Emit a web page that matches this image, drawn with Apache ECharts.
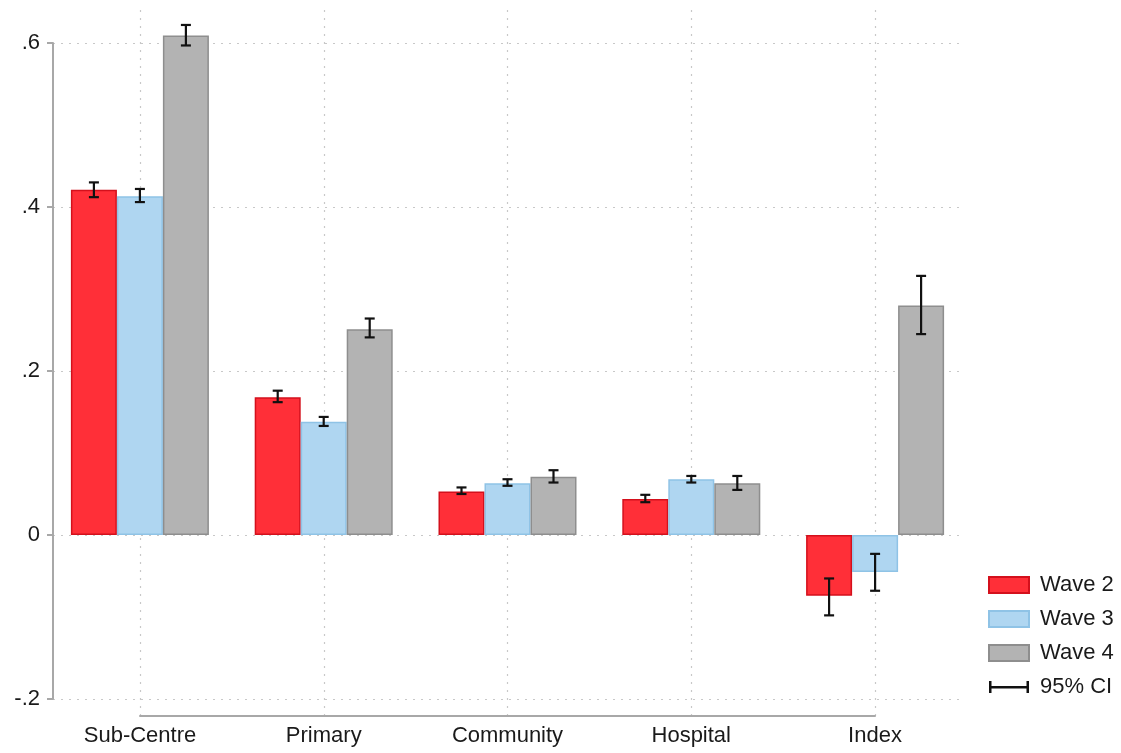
<!DOCTYPE html>
<html>
<head>
<meta charset="utf-8">
<script src="https://cdn.jsdelivr.net/npm/echarts@6/dist/echarts.min.js"></script>
<style>
  html, body { margin: 0; padding: 0; background: #fff; }
  #chart { width: 1121px; height: 753px; }
</style>
</head>
<body>
<div id="chart"></div>
<script>
// Facility-level estimates by survey wave, with 95% confidence intervals
const categories = ['Sub-Centre', 'Primary', 'Community', 'Hospital', 'Index'];
const seriesNames = ['Wave 2', 'Wave 3', 'Wave 4'];

const wave2 = [0.421, 0.168, 0.053, 0.044, -0.074];
const wave3 = [0.413, 0.138, 0.063, 0.068, -0.045];
const wave4 = [0.609, 0.251, 0.071, 0.063, 0.280];

const wave2Low  = [0.412, 0.162, 0.050, 0.040, -0.098];
const wave2High = [0.430, 0.176, 0.058, 0.049, -0.053];
const wave3Low  = [0.406, 0.133, 0.060, 0.064, -0.068];
const wave3High = [0.422, 0.144, 0.068, 0.072, -0.023];
const wave4Low  = [0.597, 0.241, 0.064, 0.055, 0.245];
const wave4High = [0.622, 0.264, 0.079, 0.072, 0.316];

const FONT = "'Liberation Sans', Arial, sans-serif";
const BAR_W = 46;

const colors = [
  { fill: '#ff2f38', border: '#d4101c' },
  { fill: '#afd6f1', border: '#8fc3e6' },
  { fill: '#b3b3b3', border: '#8e8e8e' }
];

const values = [wave2, wave3, wave4];
const lows = [wave2Low, wave3Low, wave4Low];
const highs = [wave2High, wave3High, wave4High];

// error-bar records: [categoryIndex, waveIndex, low, high]
const ciData = [];
categories.forEach((c, i) => {
  for (let s = 0; s < 3; s++) ciData.push([i, s, lows[s][i], highs[s][i]]);
});

const barSeries = seriesNames.map((name, s) => ({
  name: name,
  type: 'bar',
  xAxisIndex: 0,
  yAxisIndex: 0,
  barWidth: BAR_W,
  barGap: '0%',
  clip: false,
  data: values[s],
  itemStyle: { color: colors[s].fill, borderColor: colors[s].border, borderWidth: 1.5 },
  emphasis: { disabled: true },
  z: 3
}));

const ciSeries = {
  name: '95% CI',
  type: 'custom',
  xAxisIndex: 0,
  yAxisIndex: 0,
  clip: false,
  data: ciData,
  encode: { x: 0, y: [2, 3] },
  z: 5,
  itemStyle: { color: '#111' },
  renderItem: function (params, api) {
    const cat = api.value(0);
    const s = api.value(1);
    const pLow = api.coord([cat, api.value(2)]);
    const pHigh = api.coord([cat, api.value(3)]);
    const x = pLow[0] + (s - 1) * BAR_W;
    const cap = 5;
    const style = { stroke: '#111', lineWidth: 2.2, fill: 'none' };
    return {
      type: 'group',
      children: [
        { type: 'line', shape: { x1: x, y1: pLow[1], x2: x, y2: pHigh[1] }, style: style },
        { type: 'line', shape: { x1: x - cap, y1: pLow[1], x2: x + cap, y2: pLow[1] }, style: style },
        { type: 'line', shape: { x1: x - cap, y1: pHigh[1], x2: x + cap, y2: pHigh[1] }, style: style }
      ]
    };
  }
};

const chart = echarts.init(document.getElementById('chart'), null, { renderer: 'canvas' });

chart.setOption({
  animation: false,
  backgroundColor: '#ffffff',
  textStyle: { fontFamily: FONT },
  grid: [
    // bars
    { left: 48, width: 919, top: 43, height: 656 },
    // y axis with horizontal gridlines
    { left: 53, width: 907, top: 43, height: 656 },
    // x axis with vertical gridlines
    { left: 140, width: 735, top: 10, height: 706 }
  ],
  xAxis: [
    { gridIndex: 0, type: 'category', data: categories, show: false },
    { gridIndex: 1, type: 'value', show: false, min: 0, max: 1 },
    {
      gridIndex: 2, type: 'category', data: categories, boundaryGap: false,
      axisLine: { show: true, lineStyle: { color: '#a8a8a8', width: 2 } },
      axisTick: { show: false },
      axisLabel: { color: '#1a1a1a', fontSize: 22, fontFamily: FONT, margin: 9 },
      splitLine: { show: true, lineStyle: { color: '#c8c8c8', type: [2, 6], width: 1.2 } }
    }
  ],
  yAxis: [
    { gridIndex: 0, type: 'value', min: -0.2, max: 0.6, show: false },
    {
      gridIndex: 1, type: 'value', min: -0.2, max: 0.6, interval: 0.2,
      axisLine: { show: true, lineStyle: { color: '#a8a8a8', width: 2 } },
      axisTick: { show: true, length: 6, lineStyle: { color: '#a8a8a8', width: 2 } },
      axisLabel: {
        color: '#1a1a1a', fontSize: 22, fontFamily: FONT, margin: 13,
        formatter: function (v) {
          const r = Math.round(v * 10) / 10;
          if (r === 0) return '0';
          return String(r).replace('0.', '.');
        }
      },
      splitLine: { show: true, lineStyle: { color: '#c8c8c8', type: [2, 6], width: 1.2 } }
    },
    { gridIndex: 2, type: 'value', show: false, min: 0, max: 1 }
  ],
  legend: {
    orient: 'vertical',
    left: 983,
    top: 569,
    itemWidth: 40,
    itemHeight: 16,
    itemGap: 12,
    textStyle: { color: '#1a1a1a', fontSize: 22, fontFamily: FONT, padding: [0, 0, 0, 6] },
    data: [
      { name: 'Wave 2', icon: 'rect' },
      { name: 'Wave 3', icon: 'rect' },
      { name: 'Wave 4', icon: 'rect' },
      {
        name: '95% CI',
        icon: 'path://M0,7 L40,7 L40,9.5 L0,9.5 Z M0,2 L2.5,2 L2.5,14 L0,14 Z M37.5,2 L40,2 L40,14 L37.5,14 Z',
        itemStyle: { color: '#111', borderWidth: 0 }
      }
    ]
  },
  series: barSeries.concat([ciSeries])
});
</script>
</body>
</html>
